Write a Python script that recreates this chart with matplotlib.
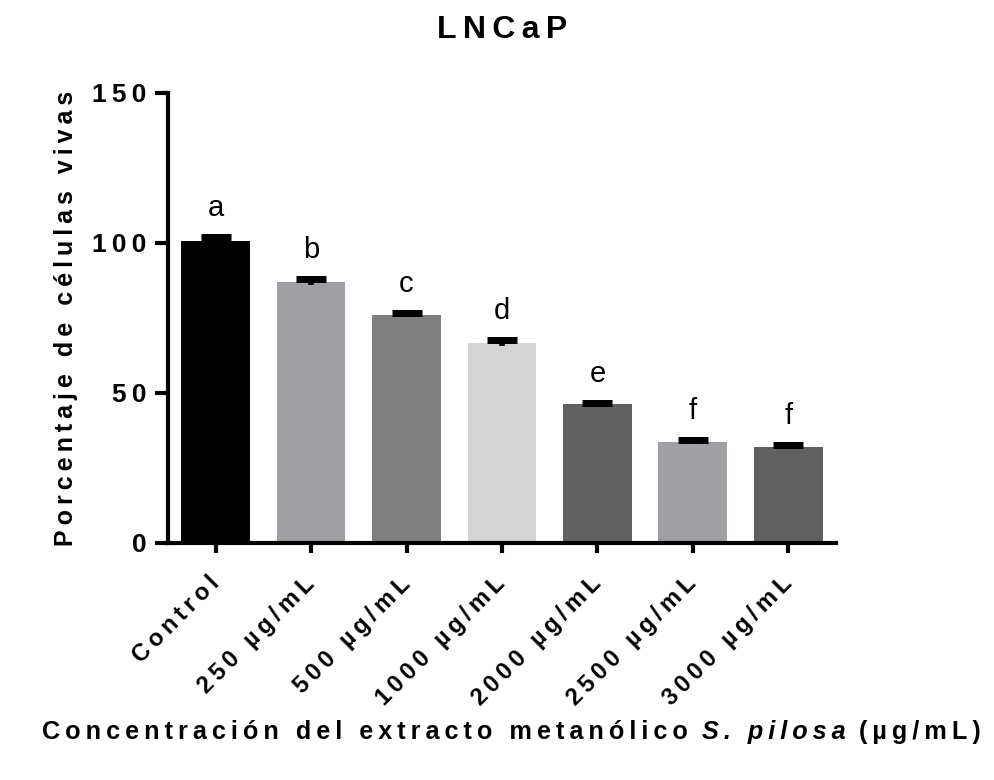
import matplotlib
matplotlib.use("Agg")
import matplotlib.pyplot as plt
import numpy as np

plt.rcParams['font.family'] = ['Liberation Sans', 'DejaVu Sans']

# Viabilidad celular LNCaP (media y error) por concentración
categories = ["Control", "250 µg/mL", "500 µg/mL", "1000 µg/mL",
              "2000 µg/mL", "2500 µg/mL", "3000 µg/mL"]
means = [100.7, 87.0, 76.0, 66.6, 46.3, 33.6, 32.1]
errors = [1.1, 1.0, 0.6, 1.0, 0.4, 0.7, 0.5]
groups = ["a", "b", "c", "d", "e", "f", "f"]
bar_colors = ["#000000", "#a0a0a4", "#808080", "#d4d4d4",
              "#606060", "#a0a0a4", "#606060"]
yticks = [0, 50, 100, 150]

THIN = "\u2009"


def spaced(text, gap=THIN):
    # letra a letra, con un poco de aire entre caracteres
    return gap.join(text)


fig = plt.figure(figsize=(9.94, 7.8), dpi=100)
ax = fig.add_axes([0.169, 0.304, 0.672, 0.577])

x = np.arange(len(categories))
ax.bar(x, means, width=0.72, color=bar_colors, zorder=2)

eb = ax.errorbar(x, means, yerr=errors, fmt='none', ecolor='black',
                 elinewidth=4, capsize=11, capthick=5, zorder=3)
eb[1][0].set_visible(False)  # sin tapa inferior

for xi, m, e, g in zip(x, means, errors, groups):
    ax.text(xi, m + e + 7, g, ha='center', va='baseline', fontsize=21)

ax.set_xlim(-0.5, 6.5)
ax.set_ylim(0, 150)
ax.set_yticks(yticks)
ax.set_yticklabels([spaced(str(v)) for v in yticks],
                   fontsize=19, fontweight='bold')
ax.set_xticks(x)
ax.set_xticklabels([spaced(c) for c in categories], rotation=45,
                   ha='right', va='center', rotation_mode='anchor',
                   fontsize=17, fontweight='bold')

for side in ['top', 'right']:
    ax.spines[side].set_visible(False)
for side in ['left', 'bottom']:
    ax.spines[side].set_linewidth(3)
ax.tick_params(axis='y', length=9.5, width=3, pad=6)
ax.tick_params(axis='x', length=7, width=3, pad=20)

fig.text(0.505, (780 - 30) / 780, spaced("LNCaP"), ha='center', va='center',
         fontsize=23, fontweight='bold')
fig.text(0.066, 0.592, spaced("Porcentaje de células vivas"), rotation=90,
         ha='center', va='center', fontsize=18, fontweight='bold')

# rótulo del eje x con el nombre de la especie en cursiva
fs = 18.2
t1 = fig.text(0.042, 0.0615, spaced("Concentración del extracto metanólico"),
              ha='left', va='center', fontsize=fs, fontweight='bold')
t2 = fig.text(0, 0, spaced("S. pilosa"), fontsize=fs, fontweight='bold',
              fontstyle='italic', ha='left', va='bottom')
t3 = fig.text(0, 0, spaced("(µg/mL)"), fontsize=fs, fontweight='bold',
              ha='left', va='bottom')
fig.canvas.draw()
r = fig.canvas.get_renderer()
inv = fig.transFigure.inverted()
word_gap = 14
b1 = t1.get_window_extent(r)
t2.set_position(inv.transform((b1.x1 + word_gap, b1.y0)))
b2 = t2.get_window_extent(r)
t3.set_position(inv.transform((b2.x1 + word_gap, b1.y0)))

fig.savefig("out.png", dpi=100)
